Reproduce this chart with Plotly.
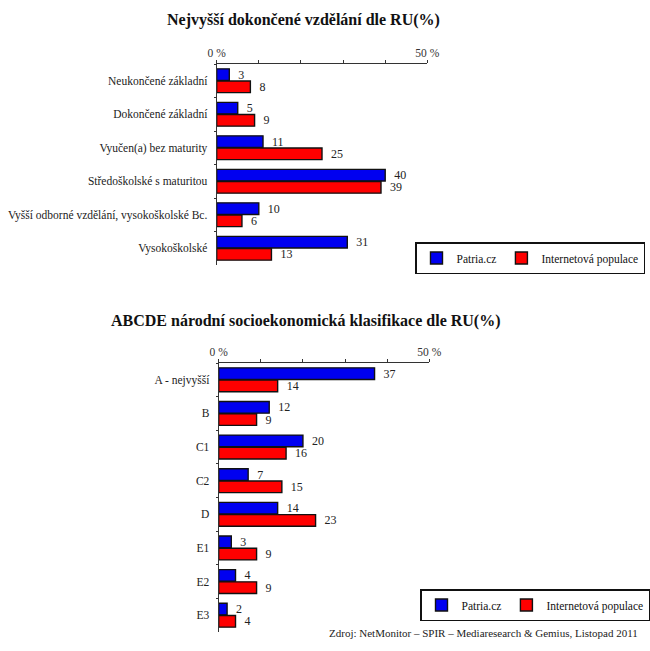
import plotly.graph_objects as go

W, H = 650, 651

edu_cats = ["Neukončené základní", "Dokončené základní", "Vyučen(a) bez maturity",
            "Středoškolské s maturitou", "Vyšší odborné vzdělání, vysokoškolské Bc.", "Vysokoškolské"]
edu_patria = [3, 5, 11, 40, 10, 31]
edu_internet = [8, 9, 25, 39, 6, 13]

abc_cats = ["A - nejvyšší", "B", "C1", "C2", "D", "E1", "E2", "E3"]
abc_patria = [37, 12, 20, 7, 14, 3, 4, 2]
abc_internet = [14, 9, 16, 15, 23, 9, 9, 4]

series_names = ["Patria.cz", "Internetová populace"]
tick_vals = [0, 10, 20, 30, 40, 50]
tick_text = ["0 %", "", "", "", "", "50 %"]

title_top = "Nejvyšší dokončené vzdělání dle RU(%)"
title_bottom = "ABCDE národní socioekonomická klasifikace dle RU(%)"
source = "Zdroj: NetMonitor – SPIR – Mediaresearch & Gemius, Listopad 2011"

BLUE = "#0000f0"
RED = "#ff0000"
FONT = "'Liberation Serif', 'Times New Roman', 'DejaVu Serif', serif"

fig = go.Figure()

def add(cats, vals, name, color, xa, ya, legend):
    fig.add_trace(go.Bar(
        y=cats, x=vals, name=name, orientation="h",
        marker=dict(color=color, line=dict(color="#111", width=1.4)),
        text=[str(v) for v in vals],
        texttemplate="\u2002%{text}", textposition="outside", constraintext="none",
        textfont=dict(family=FONT, size=12, color="#222"),
        cliponaxis=False, xaxis=xa, yaxis=ya, legend=legend,
        hoverinfo="x+y+name",
    ))

add(edu_cats, edu_patria, series_names[0], BLUE, "x", "y", "legend")
add(edu_cats, edu_internet, series_names[1], RED, "x", "y", "legend")
add(abc_cats, abc_patria, series_names[0], BLUE, "x2", "y2", "legend2")
add(abc_cats, abc_internet, series_names[1], RED, "x2", "y2", "legend2")

def px_x(a, b):
    return [a / W, b / W]

def px_y(top, bottom):
    return [(H - bottom) / H, (H - top) / H]

xaxis_common = dict(
    range=[0, 50], side="top", showgrid=False, zeroline=False,
    showline=True, linecolor="#333", linewidth=1,
    ticks="outside", ticklen=3, tickcolor="#333",
    tickvals=tick_vals, ticktext=tick_text,
    tickfont=dict(family=FONT, size=11.5, color="#333"),
    ticklabelstandoff=-2,
    fixedrange=True, automargin=False,
)
yaxis_common = dict(
    autorange="reversed", showgrid=False, zeroline=False,
    showline=True, linecolor="#333", linewidth=1,
    ticks="outside", ticklen=2, tickcolor="#333", tickson="boundaries",
    tickfont=dict(family=FONT, size=11.5, color="#222"),
    ticklabelstandoff=6, automargin=False,
)

legend_common = dict(
    orientation="h", xanchor="center", yanchor="top",
    bordercolor="#111", borderwidth=1.5, bgcolor="white",
    font=dict(family=FONT, size=11.5, color="#111"), itemwidth=30,
    traceorder="normal",
)

fig.update_layout(
    width=W, height=H, autosize=False,
    margin=dict(l=0, r=0, t=0, b=0),
    paper_bgcolor="white", plot_bgcolor="white",
    barmode="group", bargap=0.27, bargroupgap=0.05,
    font=dict(family=FONT, color="#222"),
    xaxis=dict(xaxis_common, domain=px_x(217, 428), anchor="y"),
    yaxis=dict(yaxis_common, domain=px_y(64, 265), anchor="x", type="category"),
    xaxis2=dict(xaxis_common, domain=px_x(219, 430), anchor="y2"),
    yaxis2=dict(yaxis_common, domain=px_y(363, 632), anchor="x2", type="category"),
    legend=dict(legend_common, x=530 / W, y=(H - 242) / H),
    legend2=dict(legend_common, x=536 / W, y=(H - 589) / H),
    annotations=[
        dict(text="<b>" + title_top + "</b>", x=304 / W, y=(H - 20) / H, xref="paper", yref="paper",
             showarrow=False, xanchor="center", yanchor="middle",
             font=dict(family=FONT, size=16, color="#111")),
        dict(text="<b>" + title_bottom + "</b>", x=306 / W, y=(H - 321) / H, xref="paper", yref="paper",
             showarrow=False, xanchor="center", yanchor="middle",
             font=dict(family=FONT, size=16, color="#111")),
        dict(text=source, x=641 / W, y=(H - 633) / H, xref="paper", yref="paper",
             showarrow=False, xanchor="right", yanchor="middle",
             font=dict(family=FONT, size=11, color="#222")),
    ],
)

fig.write_html("out.html")
